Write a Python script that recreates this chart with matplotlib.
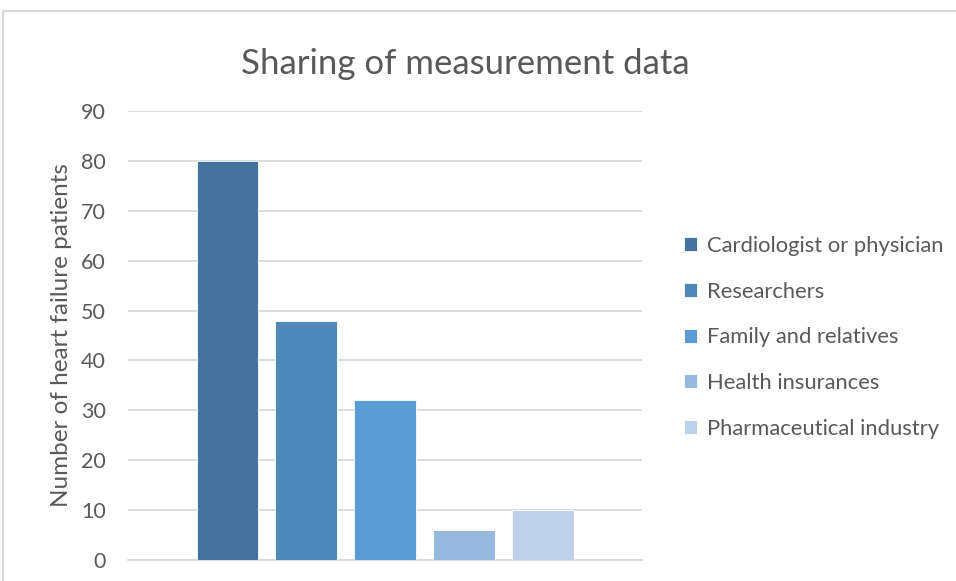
import matplotlib
matplotlib.use("Agg")
import matplotlib.pyplot as plt
from matplotlib.patches import Rectangle

# Chart data
categories = ["Cardiologist or physician", "Researchers", "Family and relatives",
              "Health insurances", "Pharmaceutical industry"]
patients = [80, 48, 32, 6, 10]
bar_colors = ["#43739E", "#4F89BC", "#5B9BD5", "#98B9DF", "#BDD1EA"]
y_ticks = [0, 10, 20, 30, 40, 50, 60, 70, 80, 90]

plt.rcParams["font.family"] = ["Lato", "DejaVu Sans"]
text_color = "#595959"
grid_color = "#D9D9D9"

fig = plt.figure(figsize=(9.56, 5.81), dpi=100)
ax = fig.add_axes([0.1339, 0.0361, 0.5377, 0.7728])

# Outer chart border
fig.patches.append(Rectangle((3 / 956, -0.05), 1.1, 1 - 11 / 581 + 0.05,
                             transform=fig.transFigure, fill=False,
                             edgecolor=grid_color, linewidth=1.5))

positions = list(range(len(categories)))
bars = ax.bar(positions, patients, width=0.785, color=bar_colors,
              edgecolor="white", linewidth=0.6, zorder=3)

ax.set_xlim(-1.26, 5.25)
ax.set_ylim(0, 90)
ax.set_yticks(y_ticks)
ax.set_xticks([])
ax.yaxis.grid(True, color=grid_color, linewidth=1.3, zorder=0)
for side in ["top", "right", "left"]:
    ax.spines[side].set_visible(False)
ax.spines["bottom"].set_color(grid_color)
ax.spines["bottom"].set_linewidth(1.3)
ax.tick_params(axis="y", length=0, pad=16, labelsize=15.5, labelcolor=text_color)

ax.set_ylabel("Number of heart failure patients", fontsize=17.5, color=text_color)
ax.yaxis.set_label_coords(-56 / 514, 0.5)
fig.text(0.487, 0.89, "Sharing of measurement data", fontsize=25,
         color=text_color, ha="center", va="center")

ax.legend(bars, categories, loc="center left", bbox_to_anchor=(1.065, 0.496),
          frameon=False, fontsize=15.8, labelcolor=text_color,
          handlelength=0.6, handleheight=0.6, handletextpad=0.45,
          labelspacing=1.17, borderaxespad=0)

fig.savefig("out.png", dpi=100)
